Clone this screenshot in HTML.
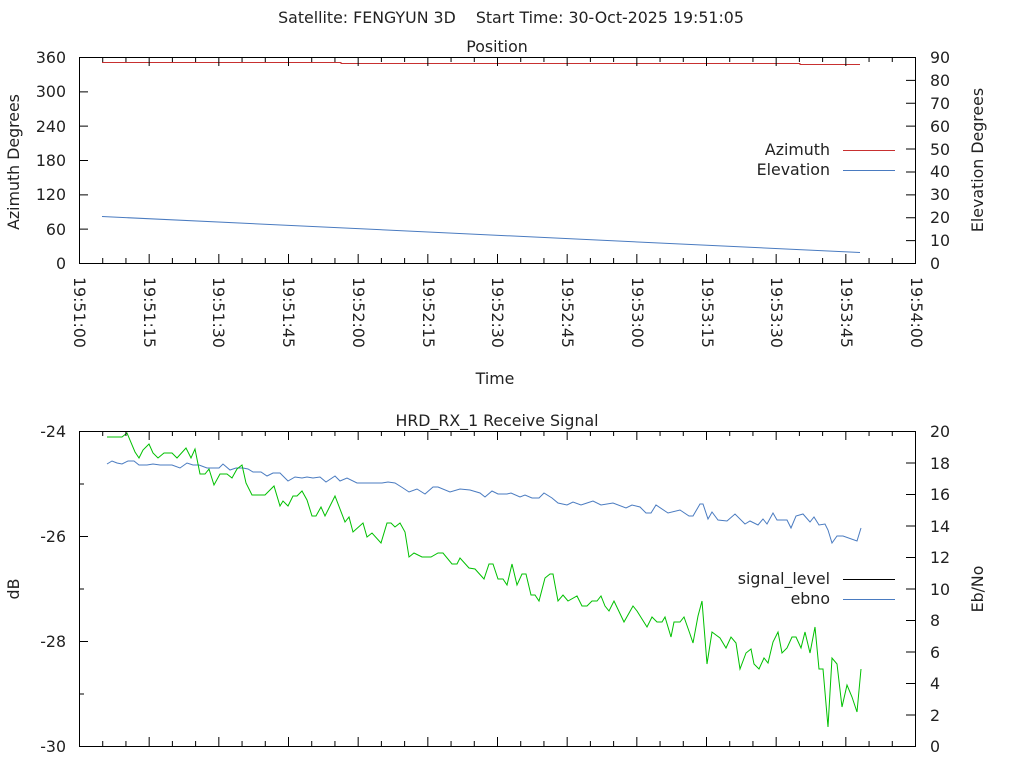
<!DOCTYPE html>
<html><head><meta charset="utf-8"><style>
html,body{margin:0;padding:0;background:#fff;}
svg{display:block;font-family:"DejaVu Sans","Liberation Sans",sans-serif;font-size:15.8px;fill:#222;}
</style></head><body>
<svg width="1024" height="768" xmlns="http://www.w3.org/2000/svg">
<rect width="1024" height="768" fill="#fff"/>
<text x="511" y="23" text-anchor="middle" xml:space="preserve" style="white-space:pre">Satellite: FENGYUN 3D    Start Time: 30-Oct-2025 19:51:05</text>
<text x="497" y="52" text-anchor="middle">Position</text>
<text x="497" y="426" text-anchor="middle">HRD_RX_1 Receive Signal</text>
<g stroke="#000" stroke-width="1" fill="none">
<rect x="79.5" y="57.5" width="836" height="206"/>
<rect x="79.5" y="431.5" width="836" height="315"/>
</g>
<g text-anchor="end">
<text x="66" y="63">360</text><text x="66" y="97">300</text><text x="66" y="132">240</text><text x="66" y="166">180</text><text x="66" y="200">120</text><text x="66" y="235">60</text><text x="66" y="269">0</text>
<text x="66" y="437">-24</text><text x="66" y="542">-26</text><text x="66" y="647">-28</text><text x="66" y="752">-30</text>
</g>
<g text-anchor="start">
<text x="930" y="63">90</text><text x="930" y="86">80</text><text x="930" y="109">70</text><text x="930" y="132">60</text><text x="930" y="155">50</text><text x="930" y="177">40</text><text x="930" y="200">30</text><text x="930" y="223">20</text><text x="930" y="246">10</text><text x="930" y="269">0</text>
<text x="930" y="437">20</text><text x="930" y="469">18</text><text x="930" y="500">16</text><text x="930" y="532">14</text><text x="930" y="563">12</text><text x="930" y="595">10</text><text x="930" y="626">8</text><text x="930" y="658">6</text><text x="930" y="689">4</text><text x="930" y="721">2</text><text x="930" y="752">0</text>
</g>
<text transform="translate(19,162) rotate(-90)" text-anchor="middle">Azimuth Degrees</text>
<text transform="translate(983,160) rotate(-90)" text-anchor="middle">Elevation Degrees</text>
<text transform="translate(19,589) rotate(-90)" text-anchor="middle">dB</text>
<text transform="translate(983,589) rotate(-90)" text-anchor="middle">Eb/No</text>
<text x="495" y="384" text-anchor="middle">Time</text>
<g text-anchor="start">
<text transform="translate(74,277) rotate(90)">19:51:00</text>
<text transform="translate(144,277) rotate(90)">19:51:15</text>
<text transform="translate(213,277) rotate(90)">19:51:30</text>
<text transform="translate(283,277) rotate(90)">19:51:45</text>
<text transform="translate(353,277) rotate(90)">19:52:00</text>
<text transform="translate(423,277) rotate(90)">19:52:15</text>
<text transform="translate(492,277) rotate(90)">19:52:30</text>
<text transform="translate(562,277) rotate(90)">19:52:45</text>
<text transform="translate(632,277) rotate(90)">19:53:00</text>
<text transform="translate(702,277) rotate(90)">19:53:15</text>
<text transform="translate(771,277) rotate(90)">19:53:30</text>
<text transform="translate(841,277) rotate(90)">19:53:45</text>
<text transform="translate(911,277) rotate(90)">19:54:00</text>
</g>
<g text-anchor="end">
<text x="830" y="155">Azimuth</text><text x="830" y="175">Elevation</text>
<text x="830" y="584">signal_level</text><text x="830" y="604">ebno</text>
</g>
<line x1="843" y1="150.5" x2="895" y2="150.5" stroke="#c83030"/>
<line x1="843" y1="170.5" x2="895" y2="170.5" stroke="#4a7bc0"/>
<line x1="843" y1="579.5" x2="895" y2="579.5" stroke="#000"/>
<line x1="843" y1="599.5" x2="895" y2="599.5" stroke="#4a7bc0"/>
<polyline fill="none" stroke="#c83030" points="102,62.5 341,62.5 341,63.5 800,63.5 800,64.5 860,64.5"/>
<line x1="102" y1="216.5" x2="860" y2="252.5" stroke="#4a7bc0"/>
<polyline fill="none" stroke="#4a7bc0" points="107,464 112,461 117,463 122,464 128,461 134,461 139,465 147,465 153,464 160,465 172,465 180,468 187,463 193,465 199,465 207,468 219,468 223,464 230,470 236,468 243,468 248,469 253,472 261,472 267,476 273,473 280,473 288,481 295,477 302,478 307,477 313,478 320,477 326,482 335,476 340,481 347,478 357,483 382,483 388,482 395,483 403,488 409,492 417,489 425,494 433,487 438,487 450,492 460,489 470,490 480,493 485,497 492,491 498,494 507,494 511,493 520,497 525,495 532,498 539,498 544,493 552,498 558,503 567,505 573,502 581,505 587,503 593,501 601,505 613,503 626,508 632,505 640,507 646,513 651,513 656,505 668,513 680,510 689,516 693,516 700,504 703,504 708,519 712,512 718,520 727,521 735,514 745,524 750,521 758,525 763,519 767,524 773,513 777,520 787,520 791,528 796,516 803,514 810,522 814,517 819,525 825,524 828,530 832,543 837,536 843,536 857,541 861,528"/>
<polyline fill="none" stroke="#00c000" points="107,437 122,437 127,433 135,452 139,458 143,450 149,444 153,453 158,458 164,453 172,453 177,458 186,448 191,458 195,449 200,474 205,474 209,469 214,485 220,474 227,474 232,478 237,469 242,465 246,483 252,495 265,495 274,486 280,506 283,501 288,506 293,496 297,496 302,491 307,500 312,516 316,516 321,507 325,516 335,496 345,522 349,517 353,532 363,523 367,537 372,533 381,543 387,523 391,523 395,527 400,523 405,532 409,557 414,553 422,557 431,557 438,553 443,553 452,564 457,564 460,558 469,568 475,569 484,579 489,564 493,564 498,579 503,579 507,585 512,564 517,585 522,574 526,574 531,595 535,595 539,601 545,578 550,574 553,574 558,601 563,595 568,601 577,596 582,606 587,606 592,601 597,601 601,596 605,606 609,611 614,601 624,622 633,606 637,611 647,627 652,617 657,622 662,622 665,617 671,637 674,622 680,622 684,617 690,634 693,643 698,616 702,601 707,664 712,632 720,638 726,648 731,637 736,643 740,669 746,653 751,649 754,664 759,669 764,658 768,663 773,642 778,632 782,653 787,648 792,637 796,637 801,648 805,632 810,653 815,627 819,669 823,669 828,727 832,658 837,664 842,707 847,685 852,697 857,712 861,669"/>
<path id="tk" fill="none" stroke="#000" d=""/>
</svg>
<script>
var d="";
function L(x1,y1,x2,y2){d+="M"+x1+" "+y1+"L"+x2+" "+y2;}
for(var k=0;k<=36;k++){var x=79.5+k*836/36;var maj=(k%3==0);var h=maj?9:5;
L(x,57,x,57+h);L(x,263,x,263-h);L(x,431,x,431+h);L(x,746,x,746-h);}
for(var i=0;i<=6;i++){var y=263.5-i*206/6;L(79,y,88,y);}
for(var i=0;i<=9;i++){var y=263.5-i*206/9;L(915,y,906,y);}
for(var i=0;i<=6;i++){var y=431.5+i*315/6;var h=(i%2==0)?9:5;L(79,y,79+h,y);}
for(var i=0;i<=10;i++){var y=746.5-i*31.5;L(915,y,906,y);}
document.getElementById("tk").setAttribute("d",d);
</script>
</body></html>
